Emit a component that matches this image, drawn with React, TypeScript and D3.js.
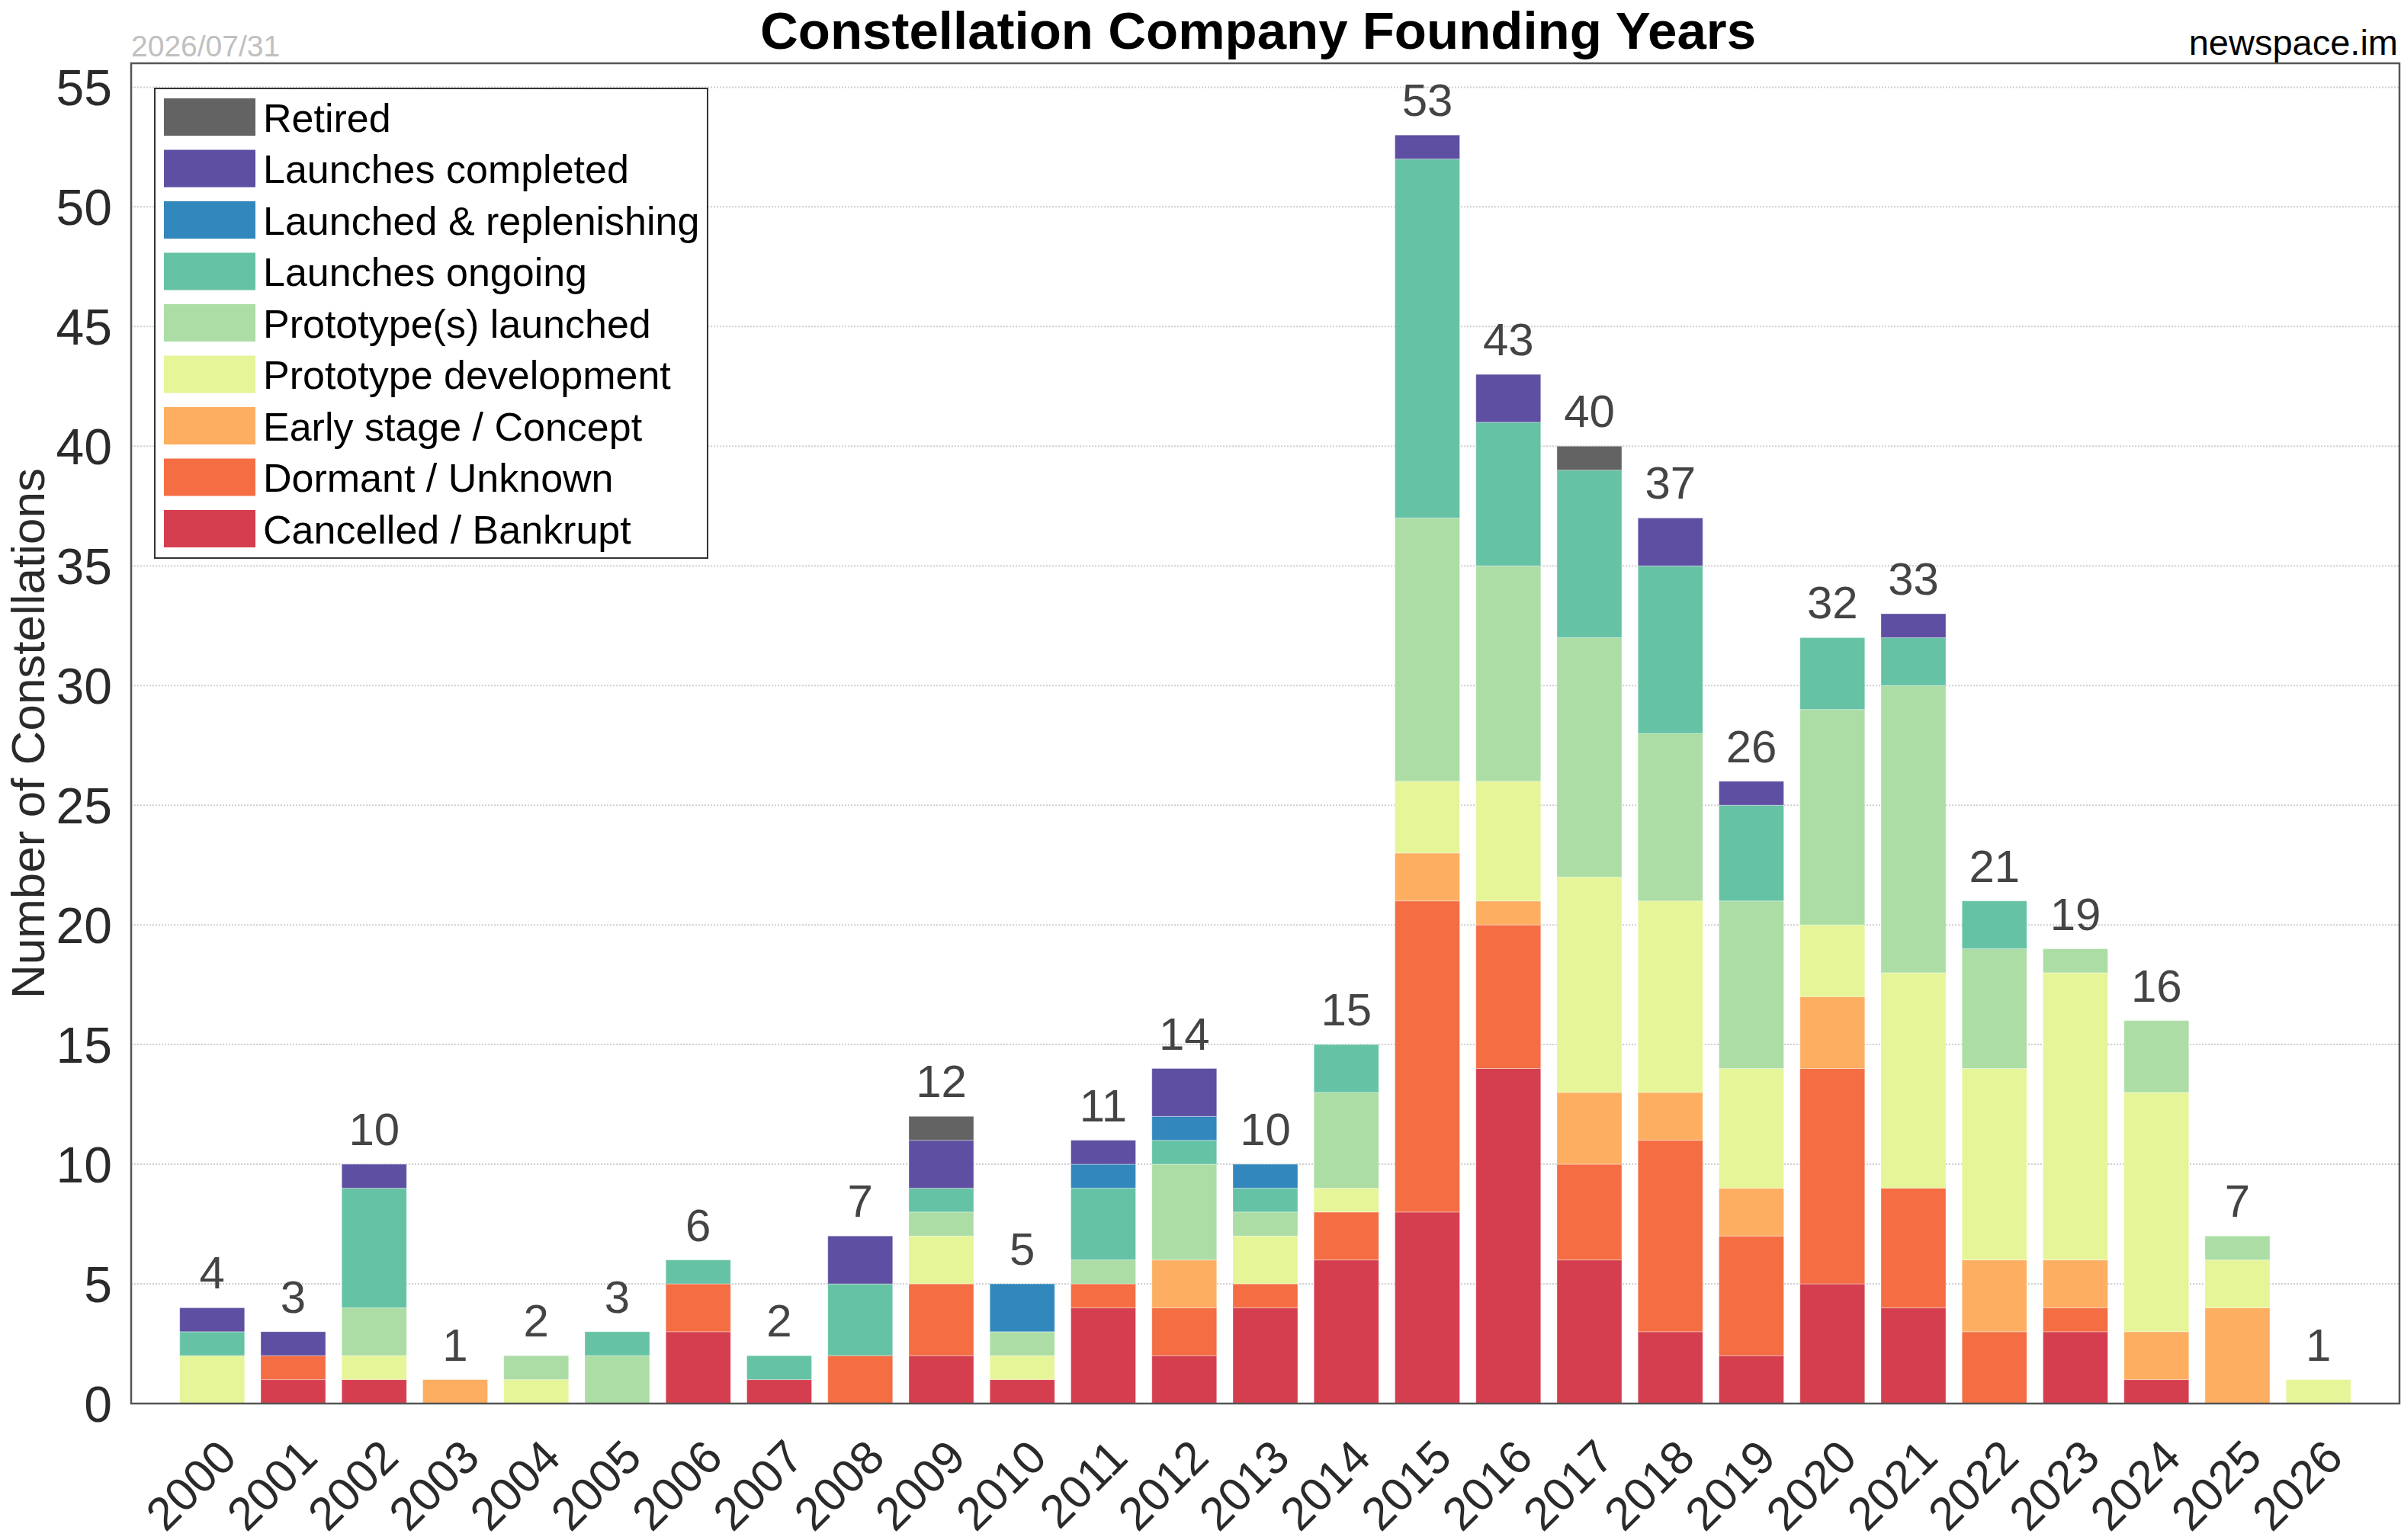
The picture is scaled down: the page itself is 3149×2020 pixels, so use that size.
import React from "react";
import * as d3 from "d3";

const years = [2000, 2001, 2002, 2003, 2004, 2005, 2006, 2007, 2008, 2009, 2010, 2011, 2012, 2013, 2014, 2015, 2016, 2017, 2018, 2019, 2020, 2021, 2022, 2023, 2024, 2025, 2026];

const cancelled = [0, 1, 1, 0, 0, 0, 3, 1, 0, 2, 1, 4, 2, 4, 6, 8, 14, 6, 3, 2, 5, 4, 0, 3, 1, 0, 0];
const dormant = [0, 1, 0, 0, 0, 0, 2, 0, 2, 3, 0, 1, 2, 1, 2, 13, 6, 4, 8, 5, 9, 5, 3, 1, 0, 0, 0];
const earlyStage = [0, 0, 0, 1, 0, 0, 0, 0, 0, 0, 0, 0, 2, 0, 0, 2, 1, 3, 2, 2, 3, 0, 3, 2, 2, 4, 0];
const protoDev = [2, 0, 1, 0, 1, 0, 0, 0, 0, 2, 1, 0, 0, 2, 1, 3, 5, 9, 8, 5, 3, 9, 8, 12, 10, 2, 1];
const protoLaunched = [0, 0, 2, 0, 1, 2, 0, 0, 0, 1, 1, 1, 4, 1, 4, 11, 9, 10, 7, 7, 9, 12, 5, 1, 3, 1, 0];
const ongoing = [1, 0, 5, 0, 0, 1, 1, 1, 3, 1, 0, 3, 1, 1, 2, 15, 6, 7, 7, 4, 3, 2, 2, 0, 0, 0, 0];
const replenishing = [0, 0, 0, 0, 0, 0, 0, 0, 0, 0, 2, 1, 1, 1, 0, 0, 0, 0, 0, 0, 0, 0, 0, 0, 0, 0, 0];
const completed = [1, 1, 1, 0, 0, 0, 0, 0, 2, 2, 0, 1, 2, 0, 0, 1, 2, 0, 2, 1, 0, 1, 0, 0, 0, 0, 0];
const retired = [0, 0, 0, 0, 0, 0, 0, 0, 0, 1, 0, 0, 0, 0, 0, 0, 0, 1, 0, 0, 0, 0, 0, 0, 0, 0, 0];

// bottom-up stacking order
const seriesKeys = ["cancelled", "dormant", "early", "protoDev", "protoLaunched", "ongoing", "replenishing", "completed", "retired"];
const seriesLabels = ["Cancelled / Bankrupt", "Dormant / Unknown", "Early stage / Concept", "Prototype development", "Prototype(s) launched", "Launches ongoing", "Launched & replenishing", "Launches completed", "Retired"];
const seriesColors = ["#d53e4f", "#f46d43", "#fdae61", "#e6f598", "#abdda4", "#66c2a5", "#3288bd", "#5e4fa2", "#636363"];
const seriesValues = [cancelled, dormant, earlyStage, protoDev, protoLaunched, ongoing, replenishing, completed, retired];

const yTicks = [0, 5, 10, 15, 20, 25, 30, 35, 40, 45, 50, 55];

const W = 3149;
const H = 2020;
const FONT = "'Liberation Sans', Arial, Helvetica, sans-serif";

export default function App() {
  const left = 172, right = 3147, top = 83, bottom = 1841;

  const rows = years.map((y, i) => {
    const r: any = { year: y };
    seriesKeys.forEach((k, j) => (r[k] = seriesValues[j][i]));
    return r;
  });
  const totals = years.map((_, i) => seriesValues.reduce((s, arr) => s + arr[i], 0));

  const x = d3.scaleBand<number>().domain(years).range([left, right]).paddingInner(0.2).paddingOuter(0.6);
  const y = d3.scaleLinear().domain([0, 56]).range([bottom, top]);
  const stacked = d3.stack<any>().keys(seriesKeys)(rows);

  const legendOrder = seriesKeys.map((_, j) => j).reverse();
  const lgX = 203, lgY = 116, lgW = 725, lgH = 616;
  const swX = 215, swY0 = 129, swW = 120, swH = 49, swStep = 67.5;

  return (
    <svg width={W} height={H} style={{ position: "absolute", left: 0, top: 0, background: "#fff" }} fontFamily={FONT}>
      <rect x={0} y={0} width={W} height={H} fill="#fff" />
      {/* title & annotations */}
      <text x={1650} y={64} textAnchor="middle" fontSize={69} fontWeight="bold" fill="#000">
        Constellation Company Founding Years
      </text>
      <text x={172} y={74} fontSize={39} fill="#c0c0c0">2026/07/31</text>
      <text x={3145} y={72} textAnchor="end" fontSize={47} fill="#000">newspace.im</text>

      {/* gridlines */}
      {yTicks.filter((t) => t > 0).map((t) => (
        <line key={"g" + t} x1={left} x2={right} y1={y(t)} y2={y(t)} stroke="#cfcfcf" strokeWidth={2} strokeDasharray="2,2" />
      ))}

      {/* bars */}
      {stacked.map((layer, j) => (
        <g key={seriesKeys[j]} fill={seriesColors[j]}>
          {layer.map((d, i) =>
            d[1] - d[0] > 0 ? (
              <rect key={i} x={x(years[i])} y={y(d[1])} width={x.bandwidth()} height={y(d[0]) - y(d[1])} stroke="#ffffff" strokeOpacity={0.35} strokeWidth={1} />
            ) : null
          )}
        </g>
      ))}

      {/* totals */}
      {years.map((yr, i) => (
        <text key={"t" + yr} x={(x(yr) as number) + x.bandwidth() / 2} y={y(totals[i]) - 25} textAnchor="middle" fontSize={60} fill="#444">
          {totals[i]}
        </text>
      ))}

      {/* frame */}
      <rect x={left} y={top} width={right - left} height={bottom - top} fill="none" stroke="#555" strokeWidth={2.5} />

      {/* y ticks */}
      {yTicks.map((t) => (
        <text key={"y" + t} x={147} y={y(t)} dy="0.36em" textAnchor="end" fontSize={66} fill="#2a2a2a">
          {t}
        </text>
      ))}
      <text transform={`translate(58,${(top + bottom) / 2}) rotate(-90)`} textAnchor="middle" fontSize={62} fill="#2a2a2a">
        Number of Constellations
      </text>

      {/* x ticks */}
      {years.map((yr) => {
        const cx = (x(yr) as number) + x.bandwidth() / 2;
        return (
          <text key={"x" + yr} transform={`translate(${cx + 35},${bottom + 74}) rotate(-45)`} textAnchor="end" fontSize={61} fill="#2a2a2a">
            {yr}
          </text>
        );
      })}

      {/* legend */}
      <rect x={lgX} y={lgY} width={lgW} height={lgH} fill="#fff" stroke="#333" strokeWidth={2} />
      {legendOrder.map((j, k) => (
        <g key={"l" + j}>
          <rect x={swX} y={swY0 + k * swStep} width={swW} height={swH} fill={seriesColors[j]} />
          <text x={345} y={swY0 + k * swStep + swH / 2 + 19} fontSize={52} fill="#000">
            {seriesLabels[j]}
          </text>
        </g>
      ))}
    </svg>
  );
}
